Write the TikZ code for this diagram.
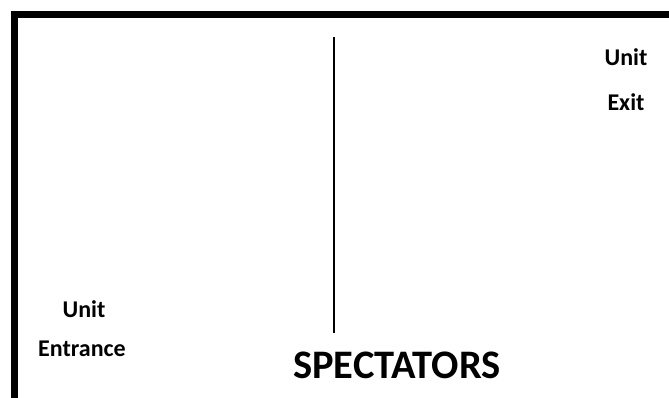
\documentclass[tikz,border=0pt]{standalone}
\usepackage{fontspec}
\setmainfont{Carlito}
\begin{document}
\begin{tikzpicture}[x=1pt,y=-1pt,
  lbl/.style={font=\bfseries\fontsize{24}{28}\selectfont, inner sep=0pt},
  big/.style={font=\bfseries\fontsize{40.5}{46}\selectfont, inner sep=0pt}]
\useasboundingbox (0,0) rectangle (669,397);
\coordinate (tl) at (14.5,14.5);
\coordinate (tr) at (672,14.5);
\coordinate (bl) at (14.5,400);
\draw[line width=7pt] (tr) -- (tl) -- (bl);
\coordinate (vtop) at (334,37);
\coordinate (vbot) at (334,333);
\draw[line width=2.6pt] (vtop) -- (vbot);
\node[lbl, anchor=base] (unitexit1) at (626,65) {Unit};
\node[lbl, anchor=base] (unitexit2) at (626,110) {Exit};
\node[lbl, anchor=base] (unitent1) at (84,317) {Unit};
\node[lbl, anchor=base] (unitent2) at (82,356) {Entrance};
\node[big, anchor=base] (spect) at (397,378) {SPECTATORS};
\end{tikzpicture}
\end{document}
